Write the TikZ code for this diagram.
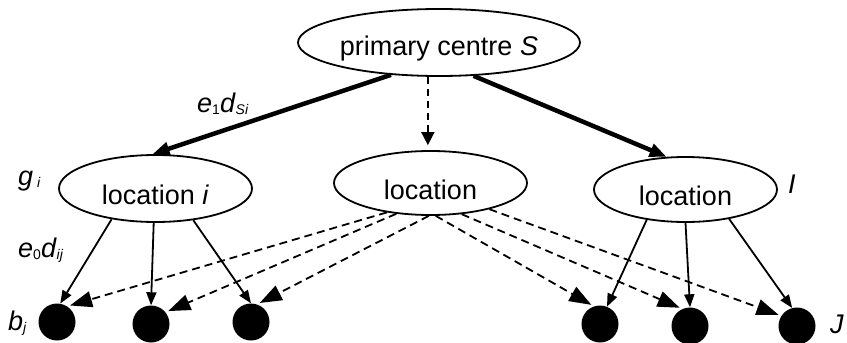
\documentclass[tikz,border=0pt]{standalone}
\usepackage{fontspec}
\setmainfont{Liberation Sans}
\usetikzlibrary{shapes.geometric,arrows.meta}
\newcommand\subtxt[1]{\raisebox{-2pt}{\fontsize{14}{14}\selectfont #1}}
\tikzset{
  place/.style={ellipse,draw,line width=1.8pt,inner sep=0pt,
    text height=32pt,text depth=0pt,
    font=\fontsize{27}{30}\selectfont},
  dot/.style={circle,fill=black,draw=none,minimum size=37pt,inner sep=0pt},
  lab/.style={anchor=base west,inner sep=0pt,font=\fontsize{27}{30}\selectfont},
  trunk/.style={line width=4.5pt,-{Triangle[length=17pt,width=13pt]}},
  branch/.style={line width=1.8pt,-{Triangle[length=13pt,width=10pt]}},
  remote/.style={line width=1.8pt,dash pattern=on 8pt off 5pt,
    -{Triangle[length=22pt,width=16pt]},shorten >=3pt},
  feed/.style={line width=1.8pt,dash pattern=on 7pt off 5pt,
    -{Triangle[length=13pt,width=13pt]},shorten >=5pt}
}
\begin{document}
\begin{tikzpicture}[x=1pt,y=-1pt]
\useasboundingbox (0,0) rectangle (847,343);

% centres
\node[place,text height=26pt,minimum width=282pt,minimum height=67pt] (ps) at (439,42.5) {primary centre \textit{S}};
\node[place,minimum width=193pt,minimum height=67pt] (li) at (155.5,188.5) {location \textit{i}};
\node[place,minimum width=193pt,minimum height=64pt] (lm) at (430.5,183) {location};
\node[place,minimum width=183pt,minimum height=65pt] (lr) at (685.5,189.5) {location};

% demand points
\node[dot] (c1) at (57,322) {};
\node[dot] (c2) at (151,324) {};
\node[dot] (c3) at (251,322) {};
\node[dot] (c4) at (600,324) {};
\node[dot] (c5) at (690,326) {};
\node[dot] (c6) at (797,326) {};

% labels
\node[lab] (l1) at (197,112) {\textit{e}\subtxt{1}\textit{d}\subtxt{\textit{Si}}};
\node[lab] (l2) at (18,185) {\textit{g}\hspace{4pt}\subtxt{\textit{i}}};
\node[lab] (l3) at (18,257) {\textit{e}\subtxt{0}\textit{d}\subtxt{\textit{ij}}};
\node[lab] (l4) at (8,330) {\textit{b}\subtxt{\textit{j}}};
\node[lab] (l5) at (788,193) {\textit{I}};
\node[lab] (l6) at (830,333) {\textit{J}};

% primary links
\draw[trunk] (ps.214) -- (li.95);
\draw[trunk] (ps.316) -- (lr.120);
\draw[feed] (ps.252) -- (ps.252 |- lm.north);

% direct supply
\draw[branch] (li.215) -- (c1.80);
\draw[branch] (li.267) -- (c2.north);
\draw[branch] (li.320) -- (c3.north);
\draw[branch] (lr.218) -- (c4.68);
\draw[branch] (lr.270) -- (c5.north);
\draw[branch] (lr.326) -- (c6.105);

% supply from the middle location
\draw[remote] (lm.214) -- (c1.57);
\draw[remote] (lm.222) -- (c2.39);
\draw[remote] (lm.267) -- (c3.71);
\draw[remote] (lm.279) -- (c4.109);
\draw[remote] (lm.315) -- (c5.114);
\draw[remote] (lm.336) -- (c6.147);
\end{tikzpicture}
\end{document}
